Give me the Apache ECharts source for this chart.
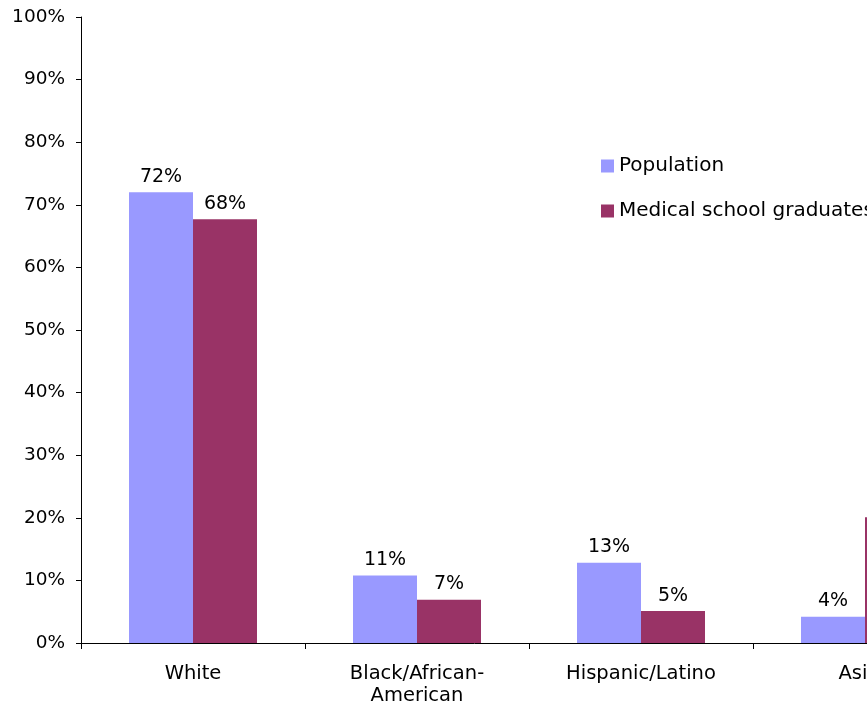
<!DOCTYPE html>
<html>
<head>
<meta charset="utf-8">
<script src="https://cdn.jsdelivr.net/npm/echarts@6/dist/echarts.min.js"></script>
<style>html,body{margin:0;padding:0;background:#fff;}#c{width:867px;height:707px;}</style>
</head>
<body>
<div id="c"></div>
<script>
const categories = ['White', 'Black/African-\nAmerican', 'Hispanic/Latino', 'Asian'];
const population = [72, 10.8, 12.8, 4.2];
const graduates = [67.7, 6.9, 5.1, 20.1];
const yTicks = [0, 10, 20, 30, 40, 50, 60, 70, 80, 90, 100];

const chart = echarts.init(document.getElementById('c'), null, {renderer: 'canvas'});
const font = 'DejaVu Sans';
const lbl = {show: true, position: 'top', distance: 6, color: '#000', fontFamily: font, fontSize: 19,
  formatter: p => Math.round(p.value) + '%'};
chart.setOption({
  animation: false,
  textStyle: {fontFamily: font},
  grid: {left: 81, top: 17, bottom: 64, right: -110, containLabel: false, outerBoundsMode: 'none'},
  legend: {
    orient: 'vertical', left: 601, top: 156, padding: 0, itemWidth: 13, itemHeight: 13, itemGap: 25,
    icon: 'rect', textStyle: {fontFamily: font, fontSize: 20, color: '#000'},
    data: ['Population', 'Medical school graduates']
  },
  xAxis: {
    type: 'category', data: categories,
    axisLine: {lineStyle: {color: '#000', width: 1}},
    axisTick: {show: true, length: 6, alignWithLabel: false, lineStyle: {color: '#000'}},
    axisLabel: {color: '#000', fontFamily: font, fontSize: 19.5, margin: 20, lineHeight: 22, interval: 0}
  },
  yAxis: {
    type: 'value', min: yTicks[0], max: yTicks[yTicks.length - 1], interval: 10,
    axisLine: {show: true, lineStyle: {color: '#000', width: 1}},
    axisTick: {show: true, inside: false, length: 5, lineStyle: {color: '#000'}},
    splitLine: {show: false},
    axisLabel: {color: '#000', fontFamily: font, fontSize: 18.5, margin: 16, formatter: v => v + '%'}
  },
  series: [
    {name: 'Population', type: 'bar', data: population, itemStyle: {color: '#9999FF'},
      barGap: '0%', barCategoryGap: '42.86%', label: lbl},
    {name: 'Medical school graduates', type: 'bar', data: graduates, itemStyle: {color: '#993366'},
      barGap: '0%', barCategoryGap: '42.86%', label: lbl}
  ]
});
</script>
</body>
</html>
